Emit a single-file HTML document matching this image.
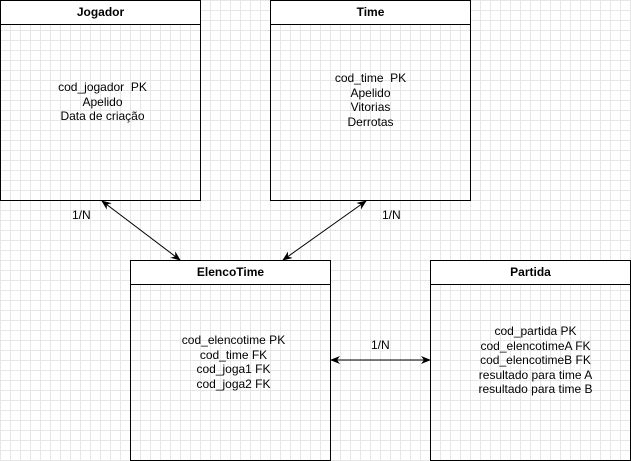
<!DOCTYPE html>
<html><head><style>
body{margin:0;width:631px;height:461px;overflow:hidden;background:#fff;
background-image:linear-gradient(#e6e6e6 1px,transparent 1px),linear-gradient(90deg,#e6e6e6 1px,transparent 1px);
background-size:10px 10px;background-position:0 0;font-family:"Liberation Sans",Arial,sans-serif;font-size:12px;}
.b{position:absolute;border:1px solid #000;box-sizing:border-box;}
.h{position:absolute;left:0;right:0;top:0;height:23px;border-bottom:1px solid #000;background:#fff;text-align:center;line-height:23px;font-weight:bold;}
.t{position:absolute;left:0;right:0;text-align:center;line-height:14.5px;}
.l{position:absolute;}
</style></head><body>
<div class="b" style="left:0;top:0;width:201px;height:201px"><div class="h">Jogador</div><div class="t" style="top:79px;left:4px">cod_jogador&nbsp; PK<br>Apelido<br>Data de criação</div></div>
<div class="b" style="left:270px;top:0;width:201px;height:201px"><div class="h">Time</div><div class="t" style="top:70px">cod_time&nbsp; PK<br>Apelido<br>Vitorias<br>Derrotas</div></div>
<div class="b" style="left:130px;top:260px;width:201px;height:201px"><div class="h">ElencoTime</div><div class="t" style="top:72px;left:6px">cod_elencotime PK<br>cod_time FK<br>cod_joga1 FK<br>cod_joga2 FK</div></div>
<div class="b" style="left:430px;top:260px;width:201px;height:201px"><div class="h">Partida</div><div class="t" style="top:63px;left:10px">cod_partida PK<br>cod_elencotimeA FK<br>cod_elencotimeB FK<br>resultado para time A<br>resultado para time B</div></div>
<svg width="631" height="461" style="position:absolute;left:0;top:0">
<defs><marker id="a" markerWidth="10" markerHeight="10" refX="9" refY="5" orient="auto-start-reverse" markerUnits="userSpaceOnUse"><path d="M0,1 L10,5 L0,9 L3,5 Z" fill="#000"/></marker></defs>
<line x1="102" y1="201" x2="180" y2="260" stroke="#000" marker-start="url(#a)" marker-end="url(#a)"/>
<line x1="366" y1="201" x2="283" y2="260" stroke="#000" marker-start="url(#a)" marker-end="url(#a)"/>
<line x1="331" y1="360" x2="430" y2="360" stroke="#000" marker-start="url(#a)" marker-end="url(#a)"/>
</svg>
<div class="l" style="left:72px;top:208px">1/N</div>
<div class="l" style="left:382px;top:208px">1/N</div>
<div class="l" style="left:371px;top:338px">1/N</div>
</body></html>
